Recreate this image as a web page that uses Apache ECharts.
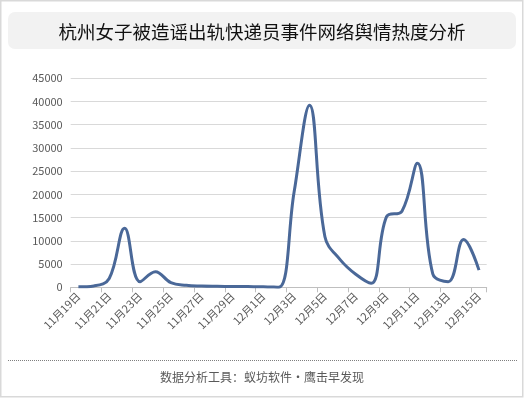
<!DOCTYPE html>
<html>
<head>
<meta charset="utf-8">
<style>
  html, body { margin: 0; padding: 0; background: #fff; }
  #chart { width: 524px; height: 398px; }
</style>
<script src="https://cdn.jsdelivr.net/npm/echarts@6/dist/echarts.min.js"></script>
</head>
<body>
<div id="chart"></div>
<script>
const titleText = '杭州女子被造谣出轨快递员事件网络舆情热度分析';
const footerText = '数据分析工具：蚁坊软件·鹰击早发现';

const days = [
  '11月19日', '11月20日', '11月21日', '11月22日', '11月23日', '11月24日', '11月25日',
  '11月26日', '11月27日', '11月28日', '11月29日', '11月30日', '12月1日', '12月2日',
  '12月3日', '12月4日', '12月5日', '12月6日', '12月7日', '12月8日', '12月9日',
  '12月10日', '12月11日', '12月12日', '12月13日', '12月14日', '12月15日'
];
const heat = [
  100, 300, 1900, 12700, 1200, 3350, 1000,
  430, 280, 220, 180, 150, 120, 0,
  20500, 39200, 10900, 5900, 2800, 860, 15200,
  16400, 26700, 2900, 1200, 10300, 3700
];
const yTicks = [0, 5000, 10000, 15000, 20000, 25000, 30000, 35000, 40000, 45000];

const font = "'Noto Sans CJK SC', 'Microsoft YaHei', sans-serif";
const chart = echarts.init(document.getElementById('chart'));

const option = {
  animation: false,
  textStyle: { fontFamily: font },
  title: {
    text: titleText,
    left: 'center',
    top: 18,
    textStyle: { fontFamily: font, fontSize: 18.5, fontWeight: 'normal', color: '#111' }
  },
  graphic: [
    {
      type: 'rect', z: -10,
      shape: { x: 0.75, y: 0.75, width: 522, height: 396 },
      style: { fill: '#fff', stroke: '#d9d9d9', lineWidth: 1.5 }
    },
    {
      type: 'rect', z: -5,
      shape: { x: 8, y: 12, width: 508, height: 37, r: 7 },
      style: { fill: '#f2f2f2' }
    },
    {
      type: 'line',
      shape: { x1: 8, y1: 360.5, x2: 517, y2: 360.5 },
      style: { stroke: '#7f7f7f', lineWidth: 1, lineDash: [1, 1] }
    },
    {
      type: 'text',
      left: 'center',
      top: 371,
      style: { text: footerText, font: '12px ' + font, fill: '#595959' }
    }
  ],
  grid: { left: 70.7, right: 37.3, top: 78.3, bottom: 110.7, containLabel: false },
  xAxis: {
    type: 'category',
    data: days,
    boundaryGap: true,
    axisLine: { lineStyle: { color: '#bfbfbf', width: 1 } },
    axisTick: { show: true, interval: 1, length: 5, lineStyle: { color: '#bfbfbf' } },
    axisLabel: {
      interval: 1,
      rotate: 45,
      margin: 7,
      fontSize: 11,
      color: '#595959',
      fontFamily: font
    }
  },
  yAxis: {
    type: 'value',
    min: yTicks[0],
    max: yTicks[yTicks.length - 1],
    interval: yTicks[1] - yTicks[0],
    axisLine: { show: false },
    axisTick: { show: false },
    axisLabel: {
      fontSize: 11, color: '#595959', margin: 8, fontFamily: font,
      formatter: v => String(v)
    },
    splitLine: { lineStyle: { color: '#d9d9d9', width: 1 } }
  },
  series: [
    {
      type: 'line',
      data: heat,
      smooth: 0.4,
      symbol: 'none',
      lineStyle: { color: '#4a6898', width: 3 }
    }
  ]
};

chart.setOption(option);
</script>
</body>
</html>
